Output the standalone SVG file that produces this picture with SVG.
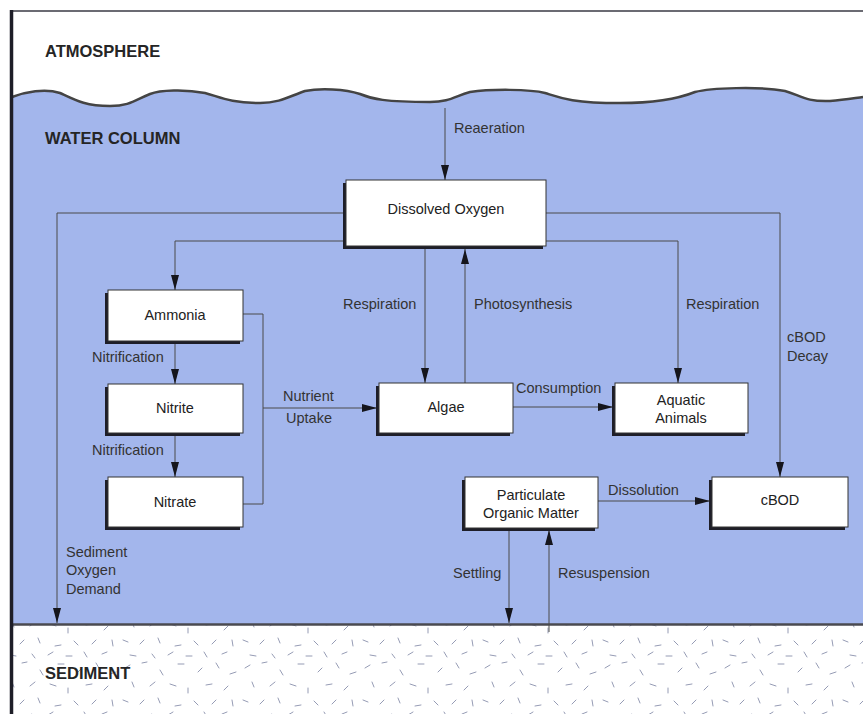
<svg xmlns="http://www.w3.org/2000/svg" width="863" height="714" viewBox="0 0 863 714">
<style>
.lbl{font-family:"Liberation Sans",Arial,sans-serif;font-size:14.5px;fill:#333}
.box{font-family:"Liberation Sans",Arial,sans-serif;font-size:14.5px;fill:#222;text-anchor:middle}
.hd{font-family:"Liberation Sans",Arial,sans-serif;font-size:16.5px;font-weight:bold;fill:#252525}
.con{fill:none;stroke:#4a4a4a;stroke-width:1}
.shadow{fill:#1e1e28}
.rect{fill:#fff;stroke:#333;stroke-width:1}
</style>
<defs>
<marker id="arr" markerUnits="userSpaceOnUse" markerWidth="16" markerHeight="9" refX="15" refY="4.5" orient="auto">
<path d="M0,0.5 L15,4.5 L0,8.5 Z" fill="#15151c"/>
</marker>
<pattern id="sed" patternUnits="userSpaceOnUse" width="120" height="60">
<g stroke="#959bb4" stroke-width="1" stroke-linecap="round">
<line x1="5" y1="8" x2="10" y2="5"/>
<line x1="22" y1="3" x2="27" y2="2"/>
<line x1="40" y1="10" x2="43" y2="15"/>
<line x1="58" y1="4" x2="64" y2="4"/>
<line x1="78" y1="12" x2="82" y2="8"/>
<line x1="96" y1="3" x2="99" y2="8"/>
<line x1="110" y1="14" x2="116" y2="12"/>
<line x1="12" y1="22" x2="14" y2="27"/>
<line x1="30" y1="26" x2="35" y2="22"/>
<line x1="50" y1="24" x2="56" y2="26"/>
<line x1="68" y1="28" x2="68" y2="33"/>
<line x1="86" y1="25" x2="92" y2="24"/>
<line x1="104" y1="30" x2="108" y2="26"/>
<line x1="3" y1="40" x2="8" y2="42"/>
<line x1="20" y1="44" x2="24" y2="40"/>
<line x1="38" y1="38" x2="40" y2="43"/>
<line x1="55" y1="46" x2="61" y2="45"/>
<line x1="74" y1="41" x2="78" y2="45"/>
<line x1="92" y1="44" x2="96" y2="40"/>
<line x1="112" y1="40" x2="113" y2="46"/>
<line x1="10" y1="55" x2="16" y2="56"/>
<line x1="32" y1="54" x2="35" y2="58"/>
<line x1="48" y1="55" x2="53" y2="52"/>
<line x1="66" y1="56" x2="72" y2="56"/>
<line x1="84" y1="52" x2="87" y2="57"/>
<line x1="102" y1="54" x2="107" y2="52"/>
</g>
</pattern>
</defs>
<rect x="0" y="0" width="863" height="714" fill="#fff"/>
<!-- water -->
<path d="M12,97 C25,92 45,88 60,93 C75,100 85,106 110,106 C130,106 135,100 150,94 C160,90 185,89 205,93 C220,97 230,103 260,103 C280,103 290,96 305,91 C320,88 345,89 360,94 C372,99 385,102 430,102 C450,102 455,96 470,92 C490,89 530,89 545,93 C558,97 570,103 620,103 C660,103 680,98 695,92 C710,88 760,86 785,91 C800,95 805,102 830,101 C845,100 855,98 863,97 L863,624 L12,624 Z" fill="#a3b6ec"/>
<path d="M12,97 C25,92 45,88 60,93 C75,100 85,106 110,106 C130,106 135,100 150,94 C160,90 185,89 205,93 C220,97 230,103 260,103 C280,103 290,96 305,91 C320,88 345,89 360,94 C372,99 385,102 430,102 C450,102 455,96 470,92 C490,89 530,89 545,93 C558,97 570,103 620,103 C660,103 680,98 695,92 C710,88 760,86 785,91 C800,95 805,102 830,101 C845,100 855,98 863,97" fill="none" stroke="#444" stroke-width="2.5"/>
<!-- sediment -->
<rect x="13" y="625" width="850" height="89" fill="url(#sed)"/>
<line x1="12" y1="624.5" x2="863" y2="624.5" stroke="#4a4a50" stroke-width="2.5"/>
<!-- frame -->
<line x1="12" y1="11" x2="863" y2="11" stroke="#3a3a44" stroke-width="1.5"/>
<line x1="11.5" y1="10" x2="11.5" y2="714" stroke="#1e1e28" stroke-width="3.5"/>
<text class="hd" x="45" y="57">ATMOSPHERE</text>
<text class="hd" x="45" y="144">WATER COLUMN</text>
<text class="hd" x="45" y="679">SEDIMENT</text>
<g id="connectors">
<path class="con" d="M445,108 V180" marker-end="url(#arr)"/>
<path class="con" d="M346,241 H175 V290" marker-end="url(#arr)"/>
<path class="con" d="M346,213 H57 V623" marker-end="url(#arr)"/>
<path class="con" d="M175,344 V384" marker-end="url(#arr)"/>
<path class="con" d="M175,436 V477" marker-end="url(#arr)"/>
<path class="con" d="M243,314 H263 V504 H243"/>
<path class="con" d="M263,408 H377" marker-end="url(#arr)"/>
<path class="con" d="M425,249 V383" marker-end="url(#arr)"/>
<path class="con" d="M465,383 V249" stroke="#6a7290" marker-end="url(#arr)"/>
<path class="con" d="M546,241 H678 V383" marker-end="url(#arr)"/>
<path class="con" d="M546,213 H780 V477" marker-end="url(#arr)"/>
<path class="con" d="M513,407 H613" marker-end="url(#arr)"/>
<path class="con" d="M598,501 H710" marker-end="url(#arr)"/>
<path class="con" d="M509,531 V623" marker-end="url(#arr)"/>
<path class="con" d="M549,632 V530" marker-end="url(#arr)"/>
</g>
<g id="labels">
<text class="lbl" x="454" y="133">Reaeration</text>
<text class="lbl" x="343" y="309">Respiration</text>
<text class="lbl" x="474" y="309">Photosynthesis</text>
<text class="lbl" x="686" y="309">Respiration</text>
<text class="lbl" x="787" y="342">cBOD</text>
<text class="lbl" x="787" y="361">Decay</text>
<text class="lbl" x="92" y="362">Nitrification</text>
<text class="lbl" x="92" y="455">Nitrification</text>
<text class="lbl" x="283" y="401">Nutrient</text>
<text class="lbl" x="286" y="423">Uptake</text>
<text class="lbl" x="516" y="393">Consumption</text>
<text class="lbl" x="608" y="495">Dissolution</text>
<text class="lbl" x="453" y="578">Settling</text>
<text class="lbl" x="558" y="578">Resuspension</text>
<text class="lbl" x="66" y="557">Sediment</text>
<text class="lbl" x="66" y="575">Oxygen</text>
<text class="lbl" x="66" y="594">Demand</text>
</g>
<g id="dissolved-oxygen">
<rect class="shadow" x="343" y="183" width="200" height="66"/>
<rect class="rect" x="346" y="180" width="200" height="66"/>
<text class="box" x="446" y="214">Dissolved Oxygen</text>
</g>
<g id="ammonia">
<rect class="shadow" x="105" y="293" width="135" height="51"/>
<rect class="rect" x="108" y="290" width="135" height="51"/>
<text class="box" x="175" y="320">Ammonia</text>
</g>
<g id="nitrite">
<rect class="shadow" x="105" y="387" width="135" height="49"/>
<rect class="rect" x="108" y="384" width="135" height="49"/>
<text class="box" x="175" y="413">Nitrite</text>
</g>
<g id="nitrate">
<rect class="shadow" x="105" y="480" width="135" height="50"/>
<rect class="rect" x="108" y="477" width="135" height="50"/>
<text class="box" x="175" y="507">Nitrate</text>
</g>
<g id="algae">
<rect class="shadow" x="376" y="386" width="134" height="50"/>
<rect class="rect" x="379" y="383" width="134" height="50"/>
<text class="box" x="446" y="412">Algae</text>
</g>
<g id="aquatic-animals">
<rect class="shadow" x="612" y="386" width="133" height="50"/>
<rect class="rect" x="615" y="383" width="133" height="50"/>
<text class="box" x="681" y="405">Aquatic</text>
<text class="box" x="681" y="423">Animals</text>
</g>
<g id="particulate-organic-matter">
<rect class="shadow" x="462" y="480" width="133" height="51"/>
<rect class="rect" x="465" y="477" width="133" height="51"/>
<text class="box" x="531" y="500">Particulate</text>
<text class="box" x="531" y="518">Organic Matter</text>
</g>
<g id="cbod">
<rect class="shadow" x="709" y="480" width="136" height="50"/>
<rect class="rect" x="712" y="477" width="136" height="50"/>
<text class="box" x="780" y="505">cBOD</text>
</g>
</svg>
